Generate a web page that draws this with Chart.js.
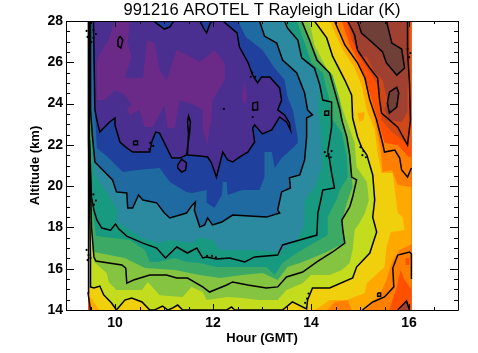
<!DOCTYPE html>
<html>
<head>
<meta charset="utf-8">
<title>991216 AROTEL T Rayleigh Lidar (K)</title>
<script src="https://cdn.jsdelivr.net/npm/chart.js@4/dist/chart.umd.min.js"></script>
<style>
    html, body { margin: 0; padding: 0; background: #fff; }
    canvas { display: block; }
</style>
</head>
<body>
<canvas id="lidar-chart" width="478" height="353"></canvas>
<script>
// Axis ticks
const hourLabels = [10, 12, 14, 16];
const altitudeLabels = [14, 16, 18, 20, 22, 24, 26, 28];

// Region covered by the measurements, [hour, km]
const fullRegion = [[9.45, 28], [16.05, 28], [16.05, 14], [9.45, 14]];

// Black contours as [hour, km]
const contour1 = [[9.54,28],[10.79,28],[10.87,27.85],[11.01,27.61],[11.12,27.71],[11.20,28],[11.73,28],[11.83,27.56],[11.87,27.42],[11.93,27.81],[11.97,28],[12.20,28],[12.49,27.42],[12.54,26.74],[12.71,26.01],[12.81,25.38],[12.91,25.0],[12.99,25.29],[13.16,25.29],[13.36,24.76],[13.40,24.17],[13.32,23.69],[13.46,23.45],[13.56,23.06],[13.58,22.72],[13.50,23.11],[13.36,23.35],[13.20,22.72],[13.01,22.53],[12.85,22.96],[12.81,22.82],[12.85,22.14],[12.71,21.65],[12.54,21.41],[12.40,21.17],[12.30,21.27],[12.20,21.65],[12.07,20.44],[11.97,21.12],[11.89,21.41],[11.73,21.46],[11.48,21.51],[11.50,22.57],[11.48,23.11],[11.50,23.40],[11.54,23.11],[11.52,22.57],[11.46,21.51],[11.32,21.36],[11.16,21.36],[11.05,21.89],[10.91,22.57],[10.83,22.62],[10.75,22.14],[10.71,21.65],[10.36,21.65],[10.24,21.85],[10.10,22.14],[10.0,22.96],[10.0,23.30],[9.89,23.11],[9.69,22.62],[9.63,23.20],[9.59,23.69],[9.56,28]];
const contour2 = [[9.50,28],[12.95,28],[13.05,27.27],[13.30,26.93],[13.42,26.11],[13.71,25.48],[13.87,24.51],[13.93,23.69],[14.03,23.45],[13.91,23.30],[13.91,22.38],[13.87,21.27],[13.77,20.54],[13.56,20.40],[13.58,19.91],[13.40,19.72],[13.32,18.84],[13.36,18.70],[13.09,18.50],[12.40,18.60],[12.18,18.26],[11.99,18.12],[11.89,18.46],[11.83,18.12],[11.73,18.02],[11.62,18.84],[11.64,19.23],[11.58,19.09],[11.46,18.70],[11.12,18.46],[11.01,18.70],[10.85,19.19],[10.57,19.33],[10.48,19.57],[10.36,18.94],[10.26,18.94],[10.24,19.67],[10.03,19.72],[9.95,20.30],[9.69,20.93],[9.59,21.17],[9.54,22.38],[9.50,23.69],[9.50,28]];
const contour3 = [[9.48,28],[13.46,28],[13.52,27.66],[13.73,27.08],[13.81,26.21],[14.07,25.72],[14.18,24.90],[14.24,24.17],[14.42,24.07],[14.42,22.86],[14.38,22.23],[14.34,21.65],[14.38,21.27],[14.42,20.64],[14.48,19.91],[14.24,19.81],[14.20,19.33],[14.14,18.70],[14.12,17.63],[13.77,17.39],[13.42,17.15],[13.32,16.66],[12.85,16.57],[12.65,16.33],[12.34,16.52],[12.07,16.47],[11.87,16.57],[11.79,16.52],[11.67,17.0],[11.48,16.76],[11.26,17.05],[11.03,16.52],[10.85,17.0],[10.57,17.24],[10.24,17.58],[10.08,17.92],[10.01,18.17],[9.91,17.87],[9.73,17.97],[9.63,18.36],[9.57,18.84],[9.52,19.47],[9.48,22.23],[9.48,28]];
const contour4 = [[9.47,28],[13.81,28],[13.97,27.08],[14.12,26.11],[14.38,25.48],[14.54,24.12],[14.59,23.69],[14.63,23.20],[14.73,22.38],[14.79,21.51],[14.83,20.44],[14.93,20.30],[14.85,19.47],[14.79,18.99],[14.63,18.36],[14.65,17.87],[14.69,17.24],[14.44,16.81],[14.12,16.33],[13.83,15.84],[13.50,15.60],[13.32,15.12],[13.09,15.07],[12.71,15.21],[12.40,15.36],[12.28,15.21],[11.93,14.87],[11.79,15.12],[11.48,15.55],[11.26,15.55],[11.05,15.69],[10.71,15.69],[10.38,15.45],[10.24,15.30],[10.22,16.03],[10.14,16.18],[9.61,16.37],[9.57,16.57],[9.52,18.02],[9.48,22.23],[9.47,28]];
const contour5 = [[9.46,28],[14.07,28],[14.32,27.18],[14.44,26.30],[14.69,25.14],[14.83,24.41],[14.85,23.30],[14.95,22.38],[15.03,21.89],[15.14,21.51],[15.26,20.54],[15.30,19.33],[15.26,18.50],[15.34,17.78],[15.20,16.76],[14.93,16.08],[14.85,15.55],[14.38,15.07],[14.03,15.07],[13.93,14.48],[13.91,14.05],[13.62,14.39],[13.42,14],[12.44,14],[12.38,14.15],[12.28,14],[11.38,14],[11.28,14.24],[11.18,14.10],[11.08,14],[10.97,14.19],[10.81,14],[10.71,14],[10.55,14.39],[10.34,14.58],[10.20,14.48],[10.03,14],[9.93,14.34],[9.77,14.73],[9.69,15.16],[9.57,15.07],[9.50,15.12],[9.50,16.52],[9.46,22.23],[9.46,28]];
const contour6 = [[9.50,14],[9.45,14.82],[9.46,22],[9.46,28],[14.48,28],[14.69,26.84],[14.95,25.97],[15.10,25.24],[15.20,24.17],[15.34,23.20],[15.46,22.09],[15.50,21.65],[15.71,21.75],[15.81,21.36],[15.85,20.78],[15.97,20.44],[16.05,20.88]];
const contour6b = [[16.05,15.5],[16.05,16.71],[16.01,16.81],[15.77,16.66],[15.67,16.03],[15.69,15.12],[15.50,14.63],[15.26,14.39],[15.05,14]];
const contour7 = [[14.75,28],[14.89,27.32],[14.95,26.59],[15.20,25.72],[15.36,25.24],[15.40,24.17],[15.44,23.54],[15.77,22.86],[15.97,21.99],[16.03,23.20],[16.01,25.0],[15.97,26.50],[15.97,28]];
const contour7b = [[15.77,14],[15.95,14.44],[16.01,14]];
const contour8 = [[14.95,28],[15.03,27.42],[15.24,26.98],[15.46,26.50],[15.54,25.97],[15.75,25.38],[15.91,25.72],[15.85,26.64],[15.65,26.93],[15.54,28]];
const contour8b = [[15.60,24.56],[15.75,24.80],[15.79,24.51],[15.75,23.83],[15.60,23.54],[15.56,24.03],[15.60,24.56]];

// Small closed contours
const islandTeardrop = [[11.28,21.02],[11.36,21.31],[11.46,21.12],[11.44,20.78],[11.36,20.68],[11.28,20.88],[11.28,21.02]];
const islandTop = [[10.10,27.27],[10.16,27.08],[10.12,26.69],[10.06,26.79],[10.06,27.08],[10.10,27.27]];
const islandBox = [[12.81,24.03],[12.91,24.07],[12.91,23.69],[12.81,23.69],[12.81,24.03]];
const islandRing = [[10.38,22.19],[10.46,22.19],[10.46,22.0],[10.38,22.0],[10.38,22.19]];
const islandRight = [[14.28,23.64],[14.36,23.64],[14.36,23.44],[14.28,23.44],[14.28,23.64]];
const islandLow = [[15.36,14.82],[15.42,14.82],[15.42,14.67],[15.36,14.67],[15.36,14.82]];

// Specks left by noisy contours
const specks = [[12.22,23.74],[12.81,23.35],[9.42,27.52],[9.48,27.42],[9.44,27.23],[9.48,27.03],[9.56,27.56],[9.61,27.37],[9.56,27.18],[9.52,26.98],[9.42,16.91],[9.46,16.66],[9.50,16.52],[9.44,16.42],[15.97,26.64],[16.03,26.45],[16.0,26.25],[15.01,21.89],[15.07,21.7],[15.12,21.4],[15.05,21.5],[14.28,21.65],[14.36,21.55],[14.42,21.7],[14.40,21.4],[14.32,21.45],[9.56,19.6],[9.61,19.3],[9.57,19.1],[12.8,25.5],[12.86,25.3],[12.77,25.3],[10.72,22.1],[10.78,21.95],[10.7,21.8],[11.88,16.62],[11.98,16.62],[12.06,16.55],[13.95,14.8],[13.92,14.55],[13.88,14.35]];

// Filled band edges, each encloses everything colder than it
const bandRust = [[9.45,28],[14.79,28],[14.95,26.35],[15.14,26.25],[15.30,25.53],[15.46,25.14],[15.56,24.17],[15.50,23.69],[15.60,23.20],[15.85,23.11],[15.97,23.59],[15.97,24.66],[16.01,26.11],[15.99,28],[16.05,28],[16.05,14],[16.01,14],[15.95,14.44],[15.77,14],[9.45,14]];
const bandRedOrange = [[9.45,28],[14.73,28],[14.83,27.08],[15.03,26.11],[15.24,25.38],[15.36,24.90],[15.40,23.93],[15.44,23.20],[15.65,22.62],[15.91,22.14],[15.97,21.99],[16.03,23.69],[16.03,26.11],[16.01,28],[16.05,28],[16.05,14],[16.03,14],[15.95,14.48],[15.81,14],[9.45,14]];
const bandOrange = [[9.45,28],[14.63,28],[14.79,26.84],[14.95,26.11],[15.10,25.24],[15.24,24.17],[15.36,23.20],[15.50,22.09],[15.77,21.99],[16.01,21.36],[16.05,21.51],[16.05,15.0],[15.91,15.45],[15.83,15.94],[15.75,15.12],[15.60,14],[9.48,14],[9.45,14.48]];
const bandAmber = [[9.45,28],[14.52,28],[14.69,26.84],[14.95,25.97],[15.10,25.24],[15.20,24.17],[15.30,23.20],[15.42,21.75],[15.46,20.68],[15.65,20.78],[15.77,20.06],[16.05,19.96],[16.05,17.19],[15.81,16.91],[15.65,16.33],[15.54,15.45],[15.40,14.72],[15.24,14.29],[15.10,14],[14.83,14],[14.75,14.48],[14.48,14.39],[14.34,14],[9.52,14],[9.48,14.48],[9.45,14.97]];
const bandYellow = [[9.45,28],[14.38,28],[14.65,26.59],[14.89,25.72],[15.03,24.9],[15.14,23.69],[15.30,22.72],[15.36,21.60],[15.44,20.64],[15.67,20.64],[15.71,19.81],[15.77,18.70],[15.87,18.50],[15.91,17.87],[15.63,17.78],[15.54,17.05],[15.50,16.08],[15.14,15.30],[15.10,14.82],[14.73,14.48],[14.38,14.48],[14.18,14.15],[14.07,14],[9.69,14],[9.63,14.15],[9.50,14.63],[9.45,15.45]];
const bandLightGreen = [[9.48,28],[13.97,28],[14.07,26.84],[14.24,26.06],[14.48,24.90],[14.65,23.69],[14.89,22.09],[14.93,20.93],[15.14,20.20],[15.18,19.33],[15.10,18.70],[14.99,18.21],[14.89,17.87],[14.85,16.91],[14.79,16.28],[14.63,15.94],[14.38,15.69],[14.00,15.69],[13.83,15.30],[13.50,14.97],[13.32,14.48],[12.95,14.48],[12.60,14.58],[12.30,14.63],[11.87,14.48],[11.79,14.87],[11.56,15.12],[11.38,14.63],[10.91,14.72],[10.67,15.36],[10.55,14.97],[10.34,14.97],[10.03,14.97],[9.87,15.36],[9.83,15.79],[9.57,16.33],[9.48,19.33]];
const bandGreen = [[9.50,28],[13.83,28],[14.01,26.84],[14.18,26.01],[14.44,25.38],[14.59,24.17],[14.69,22.57],[14.79,21.60],[14.83,20.44],[14.85,19.96],[14.75,19.33],[14.69,18.84],[14.63,18.21],[14.69,17.24],[14.32,16.81],[14.03,16.52],[13.77,16.28],[13.52,16.08],[13.32,15.45],[13.01,15.79],[12.60,15.69],[12.14,15.55],[11.73,15.69],[11.22,15.94],[10.61,16.03],[10.20,16.52],[9.57,16.81],[9.50,19.33]];
const bandTeal = [[9.52,28],[13.71,28],[13.87,26.93],[14.01,25.97],[14.24,25.48],[14.38,24.12],[14.42,23.30],[14.63,22.57],[14.73,21.41],[14.75,20.44],[14.59,19.81],[14.52,19.33],[14.34,18.50],[14.34,17.63],[13.71,16.76],[13.42,16.28],[13.26,15.69],[13.09,16.08],[12.60,16.08],[12.07,16.08],[11.73,16.28],[11.46,16.33],[11.22,16.52],[10.87,16.33],[10.71,16.33],[10.61,16.91],[10.30,17.39],[9.61,17.58],[9.52,19.33]];
const bandTealBlue = [[9.54,28],[13.46,28],[13.73,27.08],[13.81,26.21],[14.07,25.72],[14.18,24.90],[14.14,23.69],[14.20,22.72],[14.22,20.93],[14.07,19.91],[13.87,19.33],[13.87,18.12],[13.71,17.39],[13.36,16.81],[12.75,16.91],[12.14,16.91],[11.99,17.39],[11.73,17.53],[11.58,17.24],[11.12,17.39],[10.91,17.24],[10.57,17.48],[10.24,17.97],[10.03,18.26],[10.05,18.84],[9.89,19.47],[9.59,20.54],[9.54,22.23]];
const bandDarkBlue = [[9.54,28],[12.51,28],[12.67,27.23],[13.01,26.59],[13.24,25.77],[13.46,25.14],[13.52,24.32],[13.63,23.69],[13.73,22.33],[13.73,22.09],[13.63,21.85],[13.40,21.36],[13.26,20.88],[13.20,21.65],[13.05,21.65],[13.05,20.44],[12.95,19.81],[12.60,19.81],[12.30,19.57],[12.28,20.20],[12.20,20.20],[12.18,19.57],[12.03,18.94],[11.87,19.19],[11.87,19.81],[11.58,19.67],[11.46,19.72],[11.12,20.20],[10.91,20.88],[10.46,20.78],[10.16,20.68],[9.85,21.41],[9.63,21.85],[9.59,23.69]];
const patchPurple = [[10.00,28],[10.30,28],[10.26,26.93],[10.34,26.26],[10.20,25.24],[10.57,25.24],[10.65,27.08],[10.81,26.93],[10.91,25.63],[11.05,25.14],[11.26,26.59],[11.36,26.50],[11.73,26.01],[12.03,26.59],[12.24,25.97],[12.24,25.14],[11.99,24.17],[11.97,23.20],[11.93,22.82],[11.89,21.99],[11.79,22.72],[11.79,23.69],[11.62,23.93],[11.32,24.17],[11.22,22.82],[11.07,22.82],[11.01,23.93],[10.77,22.86],[10.61,22.86],[10.50,23.69],[10.30,23.45],[10.24,23.78],[10.34,23.93],[10.20,24.41],[10.00,24.66],[9.79,24.17],[9.63,24.17],[9.63,26.11],[9.79,26.84],[9.85,26.98]];
const patchPurpleSmall = [[12.58,24.32],[12.65,25.05],[12.69,24.32],[12.65,23.93]];
const spotAmber = [[14.95,23.54],[15.10,23.59],[15.07,23.20],[14.99,23.11]];
const spotRedOrange = [[15.93,16.52],[16.01,16.52],[16.01,16.18],[15.93,16.18]];

// Painted in this order, warmest first
const fillLayers = [
    { points: fullRegion, color: '#a04030' },
    { points: bandRust, color: '#d04818' },
    { points: bandRedOrange, color: '#ff5000' },
    { points: bandOrange, color: '#ff8000' },
    { points: spotRedOrange, color: '#ff5000' },
    { points: bandAmber, color: '#ffa800' },
    { points: bandYellow, color: '#f0d00c' },
    { points: spotAmber, color: '#ffa800' },
    { points: contour5, color: '#c4dc1e' },
    { points: bandLightGreen, color: '#84c440' },
    { points: bandGreen, color: '#3caa64' },
    { points: bandTeal, color: '#189a80' },
    { points: bandTealBlue, color: '#2c8aa0' },
    { points: contour2, color: '#1f6aa0' },
    { points: bandDarkBlue, color: '#1f409c' },
    { points: contour1, color: '#4a2e90' },
    { points: patchPurple, color: '#6c2a88' },
    { points: patchPurpleSmall, color: '#6c2a88' },
    { points: islandTeardrop, color: '#4a2e90' },
    { points: contour8, color: '#704038' },
    { points: contour8b, color: '#704038' }
];

const contourLines = [contour1, contour2, contour3, contour4, contour5, contour6, contour6b, contour7, contour7b, contour8, contour8b,
    islandTeardrop, islandTop, islandBox, islandRing, islandRight, islandLow];

const toXY = pts => pts.map(p => ({ x: p[0], y: p[1] }));

const datasets = [];
fillLayers.forEach(layer => {
    datasets.push({
        data: toXY(layer.points),
        showLine: true,
        fill: 'shape',
        backgroundColor: layer.color,
        borderWidth: 0,
        pointRadius: 0
    });
});
contourLines.forEach(line => {
    datasets.push({
        data: toXY(line),
        showLine: true,
        fill: false,
        borderColor: '#000',
        borderWidth: 1.5,
        pointRadius: 0
    });
});
datasets.push({
    data: toXY(specks),
    showLine: false,
    backgroundColor: '#000',
    pointBorderWidth: 0,
    pointRadius: 1.1
});
// chart.js paints higher order first
datasets.forEach((d, i) => { d.order = datasets.length - i; });

// Box with inward ticks on all four sides, the way the original plot has them
const frameTicks = {
    id: 'frameTicks',
    afterLayout(chart) {
        // title sits over the plot box, not over the whole canvas
        chart.titleBlock.left = chart.chartArea.left;
        chart.titleBlock.right = chart.chartArea.right;
    },
    afterDatasetsDraw(chart) {
        const { ctx, chartArea: a, scales } = chart;
        ctx.save();
        ctx.strokeStyle = '#000';
        ctx.lineWidth = 1;
        ctx.beginPath();
        ctx.rect(a.left + 0.5, a.top + 0.5, a.right - a.left, a.bottom - a.top);
        scales.x.ticks.forEach(t => {
            const px = Math.round(scales.x.getPixelForValue(t.value)) + 0.5;
            const len = hourLabels.includes(t.value) ? 6 : 3;
            ctx.moveTo(px, a.bottom); ctx.lineTo(px, a.bottom - len);
            ctx.moveTo(px, a.top); ctx.lineTo(px, a.top + len);
        });
        scales.y.ticks.forEach(t => {
            const py = Math.round(scales.y.getPixelForValue(t.value)) + 0.5;
            const len = altitudeLabels.includes(t.value) ? 8 : 4;
            ctx.moveTo(a.left, py); ctx.lineTo(a.left + len, py);
            ctx.moveTo(a.right, py); ctx.lineTo(a.right - len, py);
        });
        ctx.stroke();
        ctx.restore();
    }
};

const fontFamily = '"Liberation Sans", Arial, sans-serif';

new Chart(document.getElementById('lidar-chart'), {
    type: 'scatter',
    data: { datasets: datasets },
    plugins: [frameTicks],
    options: {
        responsive: false,
        animation: false,
        events: [],
        layout: { padding: { left: 28, right: 20, top: 0, bottom: 7 } },
        plugins: {
            legend: { display: false },
            tooltip: { enabled: false },
            title: {
                display: true,
                text: '991216 AROTEL T Rayleigh Lidar (K)',
                color: '#000',
                font: { family: fontFamily, size: 16.5, weight: 'normal', lineHeight: '18px' },
                padding: { top: 1, bottom: 2 }
            }
        },
        scales: {
            x: {
                type: 'linear',
                min: 9,
                max: 17,
                grid: { display: false, drawTicks: false },
                border: { display: false },
                afterFit: s => { s.height = 36; },
                ticks: {
                    stepSize: 0.5,
                    autoSkip: false,
                    maxRotation: 0,
                    padding: 5,
                    color: '#000',
                    font: { family: fontFamily, size: 14, weight: 'bold' },
                    callback: v => hourLabels.includes(v) ? String(v) : ''
                },
                title: {
                    display: true,
                    text: 'Hour (GMT)',
                    color: '#000',
                    padding: 0,
                    font: { family: fontFamily, size: 13, weight: 'bold' }
                }
            },
            y: {
                type: 'linear',
                min: 14,
                max: 28,
                grid: { display: false, drawTicks: false },
                border: { display: false },
                afterFit: s => { s.width = 38; },
                ticks: {
                    stepSize: 0.5,
                    autoSkip: false,
                    padding: 3,
                    color: '#000',
                    font: { family: fontFamily, size: 14, weight: 'bold' },
                    callback: v => altitudeLabels.includes(v) ? String(v) : ''
                },
                title: {
                    display: true,
                    text: 'Altitude (km)',
                    color: '#000',
                    padding: 0,
                    font: { family: fontFamily, size: 13, weight: 'bold' }
                }
            }
        }
    }
});
</script>
</body>
</html>
